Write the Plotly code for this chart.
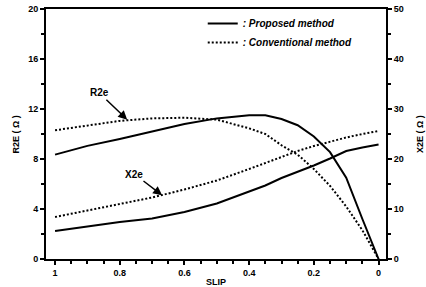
import plotly.graph_objects as go

slip = [1.0, 0.9, 0.8, 0.7, 0.6, 0.5, 0.4, 0.35, 0.3, 0.25, 0.2, 0.15, 0.1, 0.05, 0.0]
r2e_proposed = [8.35, 9.05, 9.6, 10.2, 10.8, 11.25, 11.5, 11.5, 11.2, 10.7, 9.8, 8.55, 6.5, 3.2, 0.0]
r2e_conventional = [10.3, 10.7, 11.05, 11.25, 11.3, 11.15, 10.45, 10.0, 9.1, 8.35, 7.2, 5.85, 4.2, 2.3, 0.0]
x2e_proposed = [5.6, 6.5, 7.4, 8.1, 9.4, 11.1, 13.6, 14.7, 16.2, 17.4, 18.7, 20.1, 21.6, 22.3, 22.9]
x2e_conventional = [8.4, 9.7, 11.0, 12.3, 13.9, 15.7, 18.0, 19.2, 20.4, 21.6, 22.6, 23.5, 24.3, 25.0, 25.6]

FONT = "Liberation Sans"
DOT = "2px,2px"

fig = go.Figure()
fig.add_trace(go.Scatter(x=slip, y=r2e_proposed, mode="lines", name=": Proposed method",
                         legendgroup="p", line=dict(color="black", width=2)))
fig.add_trace(go.Scatter(x=slip, y=x2e_proposed, mode="lines", name=": Proposed method",
                         legendgroup="p", showlegend=False, yaxis="y2",
                         line=dict(color="black", width=2)))
fig.add_trace(go.Scatter(x=slip, y=r2e_conventional, mode="lines", name=": Conventional method",
                         legendgroup="c", line=dict(color="black", width=2, dash=DOT)))
fig.add_trace(go.Scatter(x=slip, y=x2e_conventional, mode="lines", name=": Conventional method",
                         legendgroup="c", showlegend=False, yaxis="y2",
                         line=dict(color="black", width=2, dash=DOT)))

tickfont = dict(family=FONT, size=9, color="black", weight="bold")
titlefont = dict(family=FONT, size=9, color="black", weight="bold")

fig.update_layout(
    width=426, height=287,
    margin=dict(l=46, r=40, t=9, b=28, autoexpand=False),
    paper_bgcolor="white", plot_bgcolor="white",
    showlegend=True,
    legend=dict(x=0.461, y=1.0, xanchor="left", yanchor="top",
                bgcolor="rgba(0,0,0,0)", borderwidth=0, tracegroupgap=0,
                font=dict(family=FONT, size=10, color="black", style="italic", weight="bold")),
    xaxis=dict(range=[1.028, -0.023], tick0=0, dtick=0.2, ticks="outside", ticklen=4,
               tickwidth=1.5, tickcolor="black", automargin=False,
               minor=dict(dtick=0.05, tick0=0, ticks="outside", ticklen=3, tickcolor="black"),
               showline=True, linewidth=2, linecolor="black", mirror=True,
               showgrid=False, zeroline=False, tickfont=tickfont,
               title=dict(text="SLIP", font=titlefont, standoff=3)),
    yaxis=dict(range=[0, 20], dtick=4, ticks="outside", ticklen=4, tickwidth=1.5,
               tickcolor="black", automargin=False, ticklabeloverflow="allow",
               minor=dict(dtick=2, ticks="outside", ticklen=3, tickcolor="black"),
               showline=True, linewidth=2, linecolor="black",
               showgrid=False, zeroline=False, tickfont=tickfont),
    yaxis2=dict(range=[0, 50], dtick=10, overlaying="y", side="right", anchor="x",
                ticks="outside", ticklen=4, tickwidth=1.5, tickcolor="black", automargin=False,
                ticklabeloverflow="allow",
                minor=dict(dtick=5, ticks="outside", ticklen=3, tickcolor="black"),
                showline=True, linewidth=2, linecolor="black",
                showgrid=False, zeroline=False, tickfont=tickfont),
)

fig.add_annotation(x=-0.087, y=0.5, xref="paper", yref="paper", text="R2E ( Ω )",
                   textangle=-90, showarrow=False, xanchor="center", yanchor="middle",
                   font=titlefont)
fig.add_annotation(x=1.1, y=0.5, xref="paper", yref="paper", text="X2E ( Ω )",
                   textangle=-90, showarrow=False, xanchor="center", yanchor="middle",
                   font=titlefont)

fig.add_annotation(x=0.777, y=11.15, xref="x", yref="y", ax=0.864, ay=13.3,
                   axref="x", ayref="y", text="R2e", showarrow=True,
                   arrowhead=2, arrowsize=1.2, arrowwidth=1.5, arrowcolor="black",
                   font=dict(family=FONT, size=10, color="black", weight="bold"))
fig.add_annotation(x=0.669, y=12.75, xref="x", yref="y2", ax=0.755, ay=17.0,
                   axref="x", ayref="y2", text="X2e", showarrow=True,
                   arrowhead=2, arrowsize=1.2, arrowwidth=1.5, arrowcolor="black",
                   font=dict(family=FONT, size=10, color="black", weight="bold"))

# remove the browser's default 8px page margin so the figure fills the window exactly
fig.write_html("out.html", config={"displayModeBar": False},
               post_script="document.body.style.margin='0';")
